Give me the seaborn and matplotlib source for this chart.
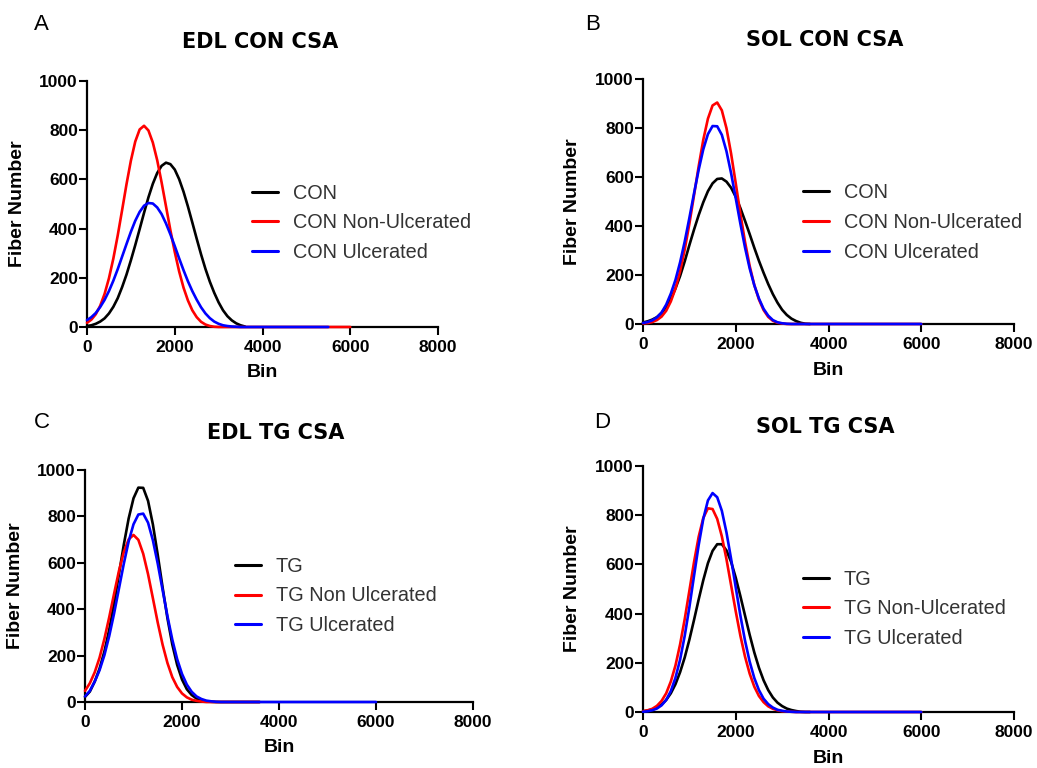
import matplotlib
matplotlib.use("Agg")
import matplotlib.pyplot as plt
import pandas as pd
import seaborn as sns
from matplotlib.lines import Line2D

sns.set_theme(style="ticks")
plt.rcParams['font.family'] = ['Liberation Sans', 'DejaVu Sans']
plt.rcParams.update({
    'axes.edgecolor': 'black', 'xtick.color': 'black', 'ytick.color': 'black',
    'text.color': 'black', 'axes.labelcolor': 'black',
})

W, H = 1037, 768

# ---------------- data ----------------
BINS = list(range(0, 3700, 100))   # bin centres 0 .. 3600
X_TICKS = [0, 2000, 4000, 6000, 8000]
Y_TICKS = [0, 200, 400, 600, 800, 1000]
X_TICK_LABELS = ["0", "2000", "4000", "6000", "8000"]
Y_TICK_LABELS = ["0", "200", "400", "600", "800", "1000"]
COLORS = ["#000000", "#ff0000", "#0000ff"]

# Panel A : EDL CON CSA
A_TITLE = "EDL CON CSA"
A_NAMES = ["CON", "CON Non-Ulcerated", "CON Ulcerated"]
A_CON = [4, 7, 13, 22, 35, 55, 82, 117, 162, 213, 271, 333, 398, 464, 527, 582, 626, 655, 668,
         662, 640, 601, 550, 490, 425, 359, 295, 236, 184, 139, 100, 68, 44, 27, 15, 7, 2]
A_NONULC = [17, 30, 52, 86, 134, 198, 278, 372, 475, 580, 676, 754, 803, 818, 799, 750, 678, 588, 491,
            394, 305, 226, 160, 108, 68, 40, 21, 10, 4, 1, 0, 0, 0, 0, 0, 0, 0]
A_ULC = [28, 40, 57, 81, 110, 146, 188, 235, 286, 337, 387, 432, 468, 493, 504, 502, 486, 459, 421,
         377, 329, 279, 231, 186, 146, 111, 80, 55, 36, 22, 13, 7, 4, 2, 1, 0, 0]
A_TAIL_END = [3600, 6000, 5500]

# Panel B : SOL CON CSA
B_TITLE = "SOL CON CSA"
B_NAMES = ["CON", "CON Non-Ulcerated", "CON Ulcerated"]
B_CON = [6, 11, 18, 28, 45, 70, 102, 145, 196, 256, 322, 385, 444, 497, 542, 574, 592, 594, 581,
         556, 519, 473, 421, 367, 311, 258, 209, 163, 122, 87, 58, 37, 22, 12, 5, 1, 0]
B_NONULC = [2, 4, 8, 16, 30, 54, 92, 145, 215, 304, 409, 525, 643, 752, 838, 892, 904, 872, 799,
            695, 574, 450, 335, 237, 159, 100, 57, 29, 13, 5, 2, 0, 0, 0, 0, 0, 0]
B_ULC = [4, 8, 15, 27, 47, 79, 124, 180, 252, 337, 433, 533, 629, 713, 775, 808, 807, 772, 705,
         615, 513, 409, 312, 227, 158, 104, 62, 34, 16, 7, 3, 1, 0, 0, 0, 0, 0]
B_TAIL_END = [3600, 6000, 6000]

# Panel C : EDL TG CSA
C_TITLE = "EDL TG CSA"
C_NAMES = ["TG", "TG Non Ulcerated", "TG Ulcerated"]
C_TG = [22, 45, 88, 144, 218, 312, 426, 551, 678, 791, 878, 924, 923, 867, 765, 634, 494, 361, 248,
        160, 97, 55, 30, 15, 7, 3, 1, 0, 0, 0, 0, 0, 0, 0, 0, 0, 0]
C_NONULC = [48, 81, 128, 191, 272, 366, 467, 565, 646, 701, 720, 699, 639, 551, 447, 342, 247, 168, 107,
            65, 37, 20, 10, 5, 2, 0, 0, 0, 0, 0, 0, 0, 0, 0, 0, 0, 0]
C_ULC = [24, 48, 88, 137, 202, 285, 382, 489, 596, 692, 766, 808, 812, 773, 697, 596, 483, 370, 269,
         185, 121, 75, 44, 24, 13, 6, 3, 1, 0, 0, 0, 0, 0, 0, 0, 0, 0]
C_TAIL_END = [3600, 3600, 6000]

# Panel D : SOL TG CSA
D_TITLE = "SOL TG CSA"
D_NAMES = ["TG", "TG Non-Ulcerated", "TG Ulcerated"]
D_TG = [3, 6, 10, 18, 30, 49, 76, 113, 162, 222, 294, 374, 457, 536, 605, 655, 682, 682, 657,
        610, 546, 471, 392, 314, 242, 180, 129, 89, 59, 38, 24, 14, 8, 4, 1, 0, 0]
D_NONULC = [3, 7, 13, 25, 45, 76, 124, 189, 275, 378, 493, 609, 712, 789, 828, 825, 785, 714, 621,
            515, 409, 310, 225, 156, 103, 65, 40, 23, 13, 7, 3, 2, 1, 0, 0, 0, 0]
D_ULC = [1, 3, 7, 14, 27, 49, 85, 139, 213, 310, 426, 553, 678, 785, 860, 890, 873, 818, 730,
         622, 506, 392, 290, 205, 138, 89, 54, 32, 18, 9, 5, 2, 1, 0, 0, 0, 0]
D_TAIL_END = [3600, 6000, 6000]

# ---------------- layout (pixels of the 1037x768 canvas) ----------------
PANELS = [
    ("A", A_TITLE, A_NAMES, [A_CON, A_NONULC, A_ULC], A_TAIL_END, (87, 81, 438, 327), (260, 42), (41, 25),
     (0.470, 0.423), -0.197, -0.183),
    ("B", B_TITLE, B_NAMES, [B_CON, B_NONULC, B_ULC], B_TAIL_END, (643, 79, 1014, 324), (825, 40), (593, 25),
     (0.431, 0.416), -0.189, -0.188),
    ("C", C_TITLE, C_NAMES, [C_TG, C_NONULC, C_ULC], C_TAIL_END, (85, 470, 473, 702), (276, 433), (42, 422),
     (0.387, 0.457), -0.180, -0.198),
    ("D", D_TITLE, D_NAMES, [D_TG, D_NONULC, D_ULC], D_TAIL_END, (643, 466, 1014, 712), (825, 427), (602, 422),
     (0.431, 0.419), -0.189, -0.187),
]

fig = plt.figure(figsize=(W / 100, H / 100), dpi=100)

for letter, title, names, values, tails, box, title_xy, letter_xy, leg_xy, ylab_x, xlab_y in PANELS:
    x0, yt, x1, yb = box
    ax = fig.add_axes([x0 / W, 1 - yb / H, (x1 - x0) / W, (yb - yt) / H])

    rows = []
    for name, vals, tail in zip(names, values, tails):
        xs = list(BINS)
        ys = list(vals)
        if tail > BINS[-1]:
            xs.append(tail)
            ys.append(0)
        rows += [{"Bin": x, "Fiber Number": y, "Series": name} for x, y in zip(xs, ys)]
    df = pd.DataFrame(rows)

    sns.lineplot(data=df, x="Bin", y="Fiber Number", hue="Series", hue_order=names,
                 palette=dict(zip(names, COLORS)), estimator=None, errorbar=None,
                 linewidth=1.9, legend=False, ax=ax)
    for ln in ax.lines:
        ln.set_zorder(3)
        ln.set_clip_on(False)
        ln.set_solid_joinstyle('round')

    ax.set_xlim(0, 8000)
    ax.set_ylim(0, 1000)
    ax.set_xticks(X_TICKS)
    ax.set_yticks(Y_TICKS)
    ax.set_xticklabels(X_TICK_LABELS, fontweight='bold', fontsize=12.5)
    ax.set_yticklabels(Y_TICK_LABELS, fontweight='bold', fontsize=12.5)
    ax.tick_params(direction='out', length=5.5, width=1.5)
    ax.tick_params(axis='x', pad=4)
    ax.tick_params(axis='y', pad=1)
    sns.despine(ax=ax)
    for sp in ("left", "bottom"):
        ax.spines[sp].set_linewidth(1.6)
        ax.spines[sp].set_color("black")

    ax.set_xlabel("Bin", fontsize=14, fontweight='bold')
    ax.set_ylabel("Fiber Number", fontsize=14, fontweight='bold')
    ax.xaxis.set_label_coords(0.5, xlab_y)
    ax.xaxis.label.set_va('center')
    ax.yaxis.set_label_coords(ylab_x, 0.5)
    ax.yaxis.label.set_va('center')
    ax.yaxis.label.set_ha('center')

    handles = [Line2D([0], [0], color=c, lw=2.2) for c in COLORS]
    ax.legend(handles, names, loc='center left', bbox_to_anchor=leg_xy, frameon=False,
              fontsize=14.3, handlelength=1.3, handletextpad=0.75, labelspacing=0.55,
              borderpad=0, borderaxespad=0, labelcolor='#333333')

    fig.text(title_xy[0] / W, 1 - title_xy[1] / H, title, ha='center', va='center',
             fontsize=15, fontweight='bold', family='DejaVu Sans')
    fig.text(letter_xy[0] / W, 1 - letter_xy[1] / H, letter, ha='center', va='center',
             fontsize=16)

fig.savefig("out.png", dpi=100)
